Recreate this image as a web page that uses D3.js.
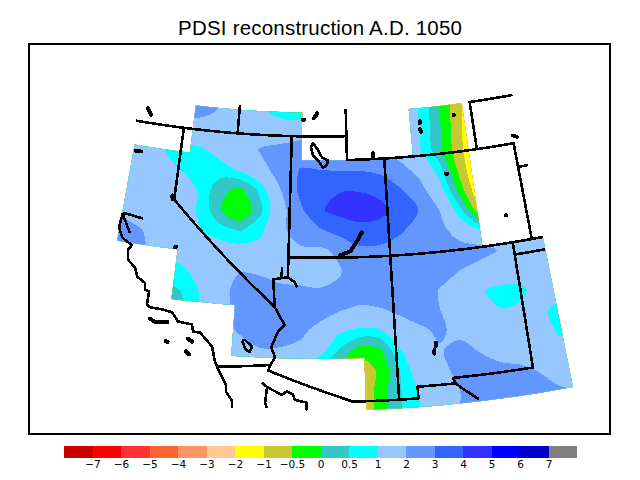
<!DOCTYPE html>
<html>
<head>
<meta charset="UTF-8">
<script src="https://cdn.jsdelivr.net/npm/d3@7"></script>
<style>
    body { margin: 0; background: white; }
    text { font-family: "DejaVu Sans", sans-serif; fill: black; }
    .line { fill: none; stroke: black; stroke-width: 2.6; stroke-linejoin: round; shape-rendering: crispEdges; }
    .lake { fill: none; stroke: black; stroke-width: 4; stroke-linecap: round; stroke-linejoin: round; shape-rendering: crispEdges; }
</style>
</head>
<body>
<script>
// contour levels and colours (one more colour than levels)
var levels = [-7, -6, -5, -4, -3, -2, -1, -0.5, 0, 0.5, 1, 2, 3, 4, 5, 6, 7];
var levelLabels = ["\u22127", "\u22126", "\u22125", "\u22124", "\u22123", "\u22122", "\u22121", "\u22120.5", "0", "0.5", "1", "2", "3", "4", "5", "6", "7"];
var bandColors = ["#c80000", "#ff0000", "#ff3232", "#ff6432", "#ff9664", "#ffc896", "#ffff00", "#c8c832", "#00ff00",
    "#32c8c8", "#00ffff", "#96c8ff", "#6496ff", "#3264ff", "#3232ff", "#0000ff", "#0000c8", "#808080"];

// PDSI, one row per line, north to south
var pdsi = [
    [2, 2, 2, 2.2, 2.5, 2.5, 2.1, 1.7, 1.2, .8, .6, .7, .9, 1.1, 1.3, 1.4, .95, -.05, -.95, -1.5, -1.7, -1.8, -1.8, -1.8, -1.8, -1.8],
    [2, 2, 2, 2.2, 2.4, 2.3, 1.95, 1.6, 1.1, .8, .6, .8, .9, 1.1, 1.3, 1.4, .95, -.05, -.95, -1.5, -1.7, -1.8, -1.8, -1.8, -1.8, -1.8],
    [1.8, 1.8, 1.7, 1.5, 1.3, 1.5, 1.5, 1.5, 1.6, 1.3, 1.4, 2, 2, 2, 1.8, 1.5, .98, .05, -.95, -1.5, -1.7, -1.8, -1.8, -1.8, -1.8, -1.8],
    [1.6, 1.6, 1.5, 1.05, .85, .9, 1.2, 1.5, 2.05, 2.3, 2.6, 2.6, 2.5, 2.4, 2.1, 1.6, 1.05, .1, -.9, -1.5, -1.7, -1.8, -1.8, -1.8, -1.8, -1.8],
    [1.6, 1.5, 1.4, 1.3, 1, .85, .8, 1.05, 1.7, 2.3, 3.05, 3, 2.95, 2.95, 2.8, 2.3, 1.7, .7, -.7, -1.6, -1.7, -1.8, -1.8, -1.8, -1.8, -1.8],
    [1.6, 1.5, 1.4, 1.3, 1.3, .95, .1, -.1, .6, 1.95, 3.2, 3.7, 3.95, 3.95, 3.7, 3.1, 2.3, 1.25, -.25, -1.5, -1.7, -1.8, -1.8, -1.8, -1.8, -1.8],
    [1.7, 1.8, 1.6, 1.3, 1.2, .95, .03, -.53, .35, 1.6, 2.8, 3.9, 4.3, 4.4, 4.3, 3.6, 2.95, 1.95, .65, -.9, -1, -1, -1, -1, -1, -1],
    [2.1, 2.3, 2.05, 1.7, 1.3, 1, .7, .45, .8, 1.75, 2.5, 2.9, 3.4, 3.75, 3.6, 3.1, 2.7, 2.3, 1.5, 1.02, 1.3, 1.5, 1.5, 1.5, 1.5, 1.5],
    [2.2, 2.3, 2.1, 1.7, 1.3, 1.3, 1.3, 1.25, 1.3, 1.65, 1.85, 1.85, 2.2, 2.8, 2.8, 2.7, 2.6, 2.5, 2.4, 2.3, 1.95, 1.7, 1.5, 1.4, 1.4, 1.4],
    [1.5, 1.2, 1, .8, .85, 1.3, 1.5, 1.95, 1.8, 1.6, 1.5, 1.6, 1.95, 2.5, 2.8, 2.8, 2.7, 2.4, 2, 1.7, 1.5, 1.4, 1.4, 1.3, 1.3, 1.3],
    [1.2, .8, .4, .2, .5, 1.05, 1.7, 2.3, 2.5, 2.2, 2.15, 2.05, 2.1, 2.6, 2.8, 2.7, 2.4, 1.95, 1.4, 1.05, .85, .85, 1.3, 1.25, 1.3, 1.3],
    [1.2, .6, .2, 0, .3, 1.1, 1.6, 2.3, 2.7, 2.6, 2.55, 2.35, 2.05, 1.8, 1.9, 2.2, 2.3, 2, 1.4, 1.1, 1.02, 1.1, 1.1, .85, 1.2, 1.2],
    [1.3, 1.2, 1, .8, 1, 1.3, 1.7, 2.1, 2.4, 2.3, 2.2, 1.75, 1.1, .9, .95, 1.5, 1.9, 2.1, 1.8, 1.5, 1.4, 1.4, 1.3, .9, 1.3, 1.3],
    [1.3, 1.3, 1.2, 1.2, 1.2, 1.4, 1.6, 1.7, 1.95, 1.95, 1.8, 1.25, .45, -.25, -.1, .95, 1.6, 1.95, 2.2, 1.95, 1.7, 1.6, 1.5, 1.2, 1.3, 1.3],
    [1.4, 1.4, 1.4, 1.4, 1.4, 1.5, 1.5, 1.5, 1.5, 1.5, 1.2, .4, -.2, -.85, -.4, .5, 1.45, 1.8, 2.2, 2.35, 2.2, 2.15, 1.95, 1.8, 1.7, 1.7],
    [1.5, 1.5, 1.5, 1.5, 1.5, 1.5, 1.5, 1.5, 1.5, 1.2, .9, .5, -.2, -.95, -.3, .45, 1.1, 1.6, 2, 2.45, 2.5, 2.4, 2.3, 2.05, 2, 1.9],
    [1.5, 1.5, 1.5, 1.5, 1.5, 1.5, 1.5, 1.5, 1.5, 1.2, .9, .5, -.2, -.95, -.3, .45, .95, 1.7, 2, 2.5, 2.5, 2.4, 2.3, 2.1, 2, 1.9],
    [1.5, 1.5, 1.5, 1.5, 1.5, 1.5, 1.5, 1.5, 1.5, 1.2, .9, .5, -.2, -.95, -.3, .45, .95, 1.7, 2, 2.5, 2.5, 2.4, 2.3, 2.1, 2, 1.9]
];

// outline of the gridded area, lon/lat
var domainOutline = [[-122.5, 41], [-119.5, 41], [-119.5, 43], [-113.5, 43], [-113.5, 41], [-107.5, 41], [-107.5, 43], [-104.5, 43],
    [-104.5, 37], [-101.5, 37], [-101.5, 31], [-110.5, 31], [-110.5, 33], [-116.5, 33], [-116.5, 35], [-119.5, 35], [-119.5, 37], [-122.5, 37], [-122.5, 41]];

// state and national borders, lon/lat
var borders = [
    [[-122.65, 42], [-111.05, 42], [-111.05, 43.15]],
    [[-117.03, 42], [-117.03, 43.2]],
    [[-120, 42], [-120, 39], [-114.63, 35]],
    [[-114.05, 42], [-114.05, 36.2], [-114.75, 36.1], [-114.63, 35], [-114.14, 34.3], [-114.43, 34.05], [-114.72, 33.4], [-114.52, 33.03], [-114.72, 32.72], [-114.81, 32.5], [-111.07, 31.33], [-108.21, 31.33], [-108.21, 31.78], [-106.53, 31.78], [-106.62, 32], [-103.06, 32], [-103, 37]],
    [[-117.12, 32.53], [-114.72, 32.72]],
    [[-111.05, 42], [-111.05, 41], [-102.05, 41], [-102.05, 37]],
    [[-114.05, 37], [-101.5, 37]],
    [[-109.05, 41], [-109.05, 31.33]],
    [[-103, 36.5], [-101.5, 36.5]],
    [[-102.05, 40], [-101.5, 40]],
    [[-104.05, 41], [-104.05, 43], [-101.6, 43]],
    [[-106.53, 31.78], [-106.24, 31.55], [-105.6, 31.08]],
    [[-114.05, 36.2], [-113.7, 36], [-113.6, 35.8]],
    [[-114.35, 36.6], [-114.35, 36.15]]
];

// coast, lon/lat
var coasts = [
    [[-122.47, 38.15], [-122.53, 37.55], [-122.3, 37.18], [-122.13, 37.08], [-121.75, 36.92], [-121.9, 36.7], [-121.82, 36.31], [-121.42, 36.04], [-121.26, 35.7], [-120.84, 35.5], [-120.79, 35.24], [-120.59, 35.18], [-120.6, 34.67], [-120.44, 34.57], [-119.87, 34.55], [-119.39, 34.48], [-119.07, 34.15], [-118.41, 34.09], [-118.33, 33.82], [-118, 33.8], [-117.4, 33.3], [-117.21, 32.72], [-116.95, 32.3], [-116.64, 31.85], [-116.62, 31.6], [-116.33, 31.27], [-116.31, 30.98]],
    [[-122.47, 38.15], [-122.1, 38.12], [-121.43, 38.05]],
    [[-122.47, 38.1], [-122.16, 37.68], [-121.95, 37.38]],
    [[-115.06, 32.03], [-114.83, 31.86], [-114.89, 31.25], [-114.8, 31.05]],
    [[-114.83, 31.86], [-114.16, 31.58], [-113.95, 31.73], [-113.68, 31.6], [-113.59, 31.4], [-113.07, 31.3], [-113.1, 31]],
    [[-116.06, 33.6], [-115.93, 33.65], [-115.59, 33.4], [-115.67, 33.2], [-115.85, 33.25], [-116.06, 33.6]],
    [[-112.99, 41.55], [-112.88, 41.72], [-112.66, 41.5], [-112.4, 41.13], [-112.07, 41], [-112.13, 40.8], [-112.34, 40.7], [-112.6, 41], [-112.88, 41.2], [-112.99, 41.55]]
];

// lakes and islands, small enough to be thick strokes
var lakes = [
    [[-122.13, 42.6], [-121.9, 42.35]],
    [[-122.38, 40.76], [-122.1, 40.76]],
    [[-120.12, 39.15], [-120.08, 39]],
    [[-119.65, 37.08], [-119.58, 37.1]],
    [[-113.45, 42.7], [-113.38, 42.7]],
    [[-112.85, 42.76], [-112.65, 42.98]],
    [[-109.63, 41.25], [-109.65, 41.05]],
    [[-111.5, 37.1], [-111, 37.25], [-110.7, 37.6], [-110.4, 38]],
    [[-106.93, 42.45], [-106.96, 42.35]],
    [[-106.98, 42.1], [-106.95, 42]],
    [[-105.05, 42.55], [-105.02, 42.55]],
    [[-105.88, 40.15], [-105.78, 40.15]],
    [[-102, 41.32], [-101.8, 41.23]],
    [[-103.12, 38.12], [-103.08, 38.12]],
    [[-107.22, 33.42], [-107.24, 33.28]],
    [[-107.32, 33.15], [-107.34, 33]],
    [[-120.38, 34.12], [-120.12, 34.03], [-119.55, 34.08]],
    [[-119.52, 33.33], [-119.43, 33.3]],
    [[-118.53, 33.52], [-118.32, 33.42]],
    [[-118.56, 33.03], [-118.4, 32.92]]
];

var width = 640, height = 480;

var svg = d3.select("body").append("svg")
    .attr("width", width)
    .attr("height", height);

// polar stereographic map, a little squashed in y
var stereo = d3.geoStereographic()
    .rotate([112.5, -90])
    .scale(2342)
    .translate([320, 0]);
var yStretch = d3.scaleLinear().domain([0, 1000]).range([-876, 95]);

function project(d) {
    var p = stereo(d);
    return [p[0], yStretch(p[1])];
}

// put points along every segment so parallels bend with the map
function densify(points) {
    var out = [];
    d3.pairs(points).forEach(function (seg) {
        var n = Math.ceil(d3.max([Math.abs(seg[1][0] - seg[0][0]), Math.abs(seg[1][1] - seg[0][1])]) / 0.5);
        var lerp = d3.interpolate(seg[0], seg[1]);
        d3.range(n).forEach(function (i) { out.push(lerp(i / n).slice()); });
    });
    out.push(points[points.length - 1]);
    return out;
}

var geoLine = d3.line();
function mapLine(points) {
    return geoLine(densify(points).map(project));
}

svg.append("clipPath").attr("id", "domain")
    .append("path")
    .attr("d", mapLine(domainOutline));

// field grid is laid out in page space
var nx = pdsi[0].length, ny = pdsi.length;
var gridX = d3.scaleLinear().domain([0.5, nx - 0.5]).range([100, 600]);
var gridY = d3.scaleLinear().domain([0.5, ny - 0.5]).range([90, 430]);

var contours = d3.contours()
    .size([nx, ny])
    .smooth(true)
    .thresholds(levels)(pdsi.flat());

// round the rings off so the coarse grid doesn't show
var ringLine = d3.line()
    .x(function (p) { return gridX(p[0]); })
    .y(function (p) { return gridY(p[1]); })
    .curve(d3.curveCatmullRomClosed.alpha(0.5));

function contourPath(c) {
    return c.coordinates.flat().map(function (ring) {
        return ringLine(ring.slice(0, -1));
    }).join("");
}

var field = svg.append("g").attr("clip-path", "url(#domain)");

field.selectAll("path")
    .data(contours)
    .enter().append("path")
    .attr("d", contourPath)
    .attr("fill", function (d, i) { return bandColors[i + 1]; })
    .attr("shape-rendering", "crispEdges");

svg.append("g").selectAll("path")
    .data(borders.concat(coasts))
    .enter().append("path")
    .attr("class", "line")
    .attr("d", mapLine);

svg.append("g").selectAll("path")
    .data(lakes)
    .enter().append("path")
    .attr("class", "lake")
    .attr("d", mapLine);

// frame
svg.append("rect")
    .attr("x", 29).attr("y", 44)
    .attr("width", 581).attr("height", 390)
    .attr("fill", "none")
    .attr("stroke", "black")
    .attr("stroke-width", 2)
    .attr("shape-rendering", "crispEdges");

svg.append("text")
    .attr("x", 320).attr("y", 35)
    .attr("text-anchor", "middle")
    .attr("font-size", 20.5)
    .attr("font-family", "Liberation Sans")
    .style("font-family", "Liberation Sans")
    .attr("textLength", 284)
    .text("PDSI reconstruction A.D. 1050");

// colour key
var keyX = d3.scaleLinear().domain([0, bandColors.length]).range([64, 577]);

svg.append("g").selectAll("rect")
    .data(bandColors)
    .enter().append("rect")
    .attr("x", function (d, i) { return keyX(i); })
    .attr("y", 446)
    .attr("width", function (d, i) { return keyX(i + 1) - keyX(i); })
    .attr("height", 12)
    .attr("fill", function (d) { return d; })
    .attr("shape-rendering", "crispEdges");

var keyAxis = d3.axisBottom(keyX)
    .tickValues(d3.range(1, bandColors.length))
    .tickFormat(function (i) { return levelLabels[i - 1]; })
    .tickSize(0)
    .tickPadding(3);

var keyG = svg.append("g")
    .attr("transform", "translate(0,458)")
    .call(keyAxis);
keyG.select(".domain").remove();
keyG.selectAll("text")
    .attr("font-size", 10.5)
    .attr("font-family", "DejaVu Sans");
</script>
</body>
</html>
